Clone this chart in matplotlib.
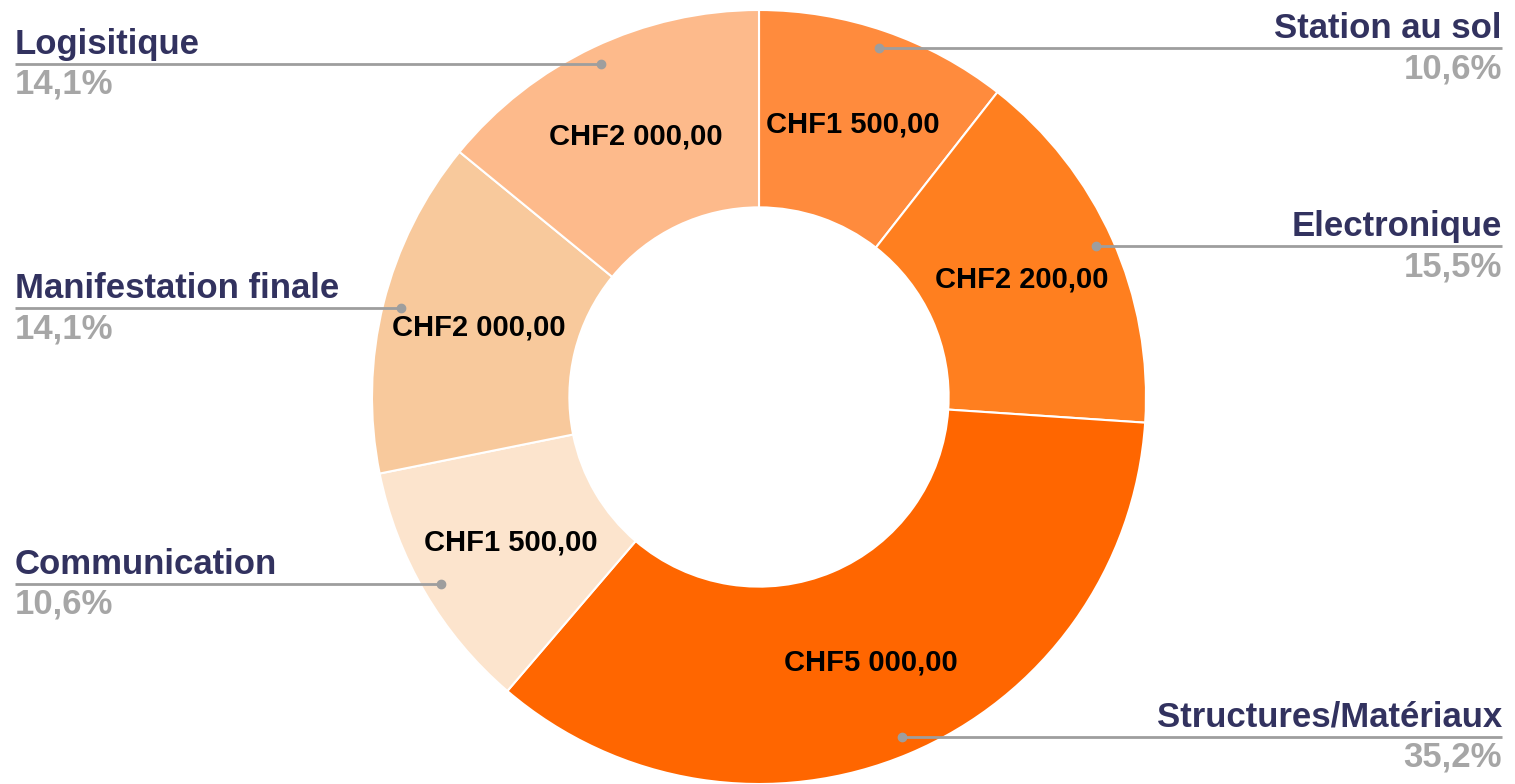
import numpy as np
import matplotlib
matplotlib.use("Agg")
import matplotlib.pyplot as plt

plt.rcParams['font.family'] = ['Liberation Sans', 'DejaVu Sans']

categories = ["Station au sol", "Electronique", "Structures/Matériaux",
              "Communication", "Manifestation finale", "Logisitique"]
amounts = [1500, 2200, 5000, 1500, 2000, 2000]
colors = ["#FF8B3D", "#FF7F1F", "#FF6600", "#FCE4CD", "#F8C99C", "#FDBA8B"]

W, H = 1515, 784
fig = plt.figure(figsize=(W / 100, H / 100), dpi=100)
ax = fig.add_axes([0, 0, 1, 1])

cx, cy, R = 759, 387, 387
total = sum(amounts)

wedges, _ = ax.pie(amounts, colors=colors, startangle=90, counterclock=False,
                   center=(cx, cy), radius=R, frame=True,
                   wedgeprops=dict(width=R * 0.51, edgecolor="white", linewidth=1.5))
ax.set_xlim(0, W)
ax.set_ylim(0, H)
ax.axis("off")

def chf(v):
    s = f"{v:,.2f}".replace(",", " ").replace(".", ",")
    return "CHF" + s

for w, cat, val in zip(wedges, categories, amounts):
    ang = np.deg2rad((w.theta1 + w.theta2) / 2)
    # montant au milieu de l'anneau
    rm = R * 0.745
    ax.text(cx + rm * np.cos(ang), cy + rm * np.sin(ang), chf(val),
            ha="center", va="center", fontsize=21, fontweight="bold", color="black")
    # ligne de rappel
    rd = R * 0.953
    dx, dy = cx + rd * np.cos(ang), cy + rd * np.sin(ang)
    pct = f"{val / total * 100:.1f}%".replace(".", ",")
    if np.cos(ang) >= 0:
        xe, ha = 1502, "right"
    else:
        xe, ha = 15, "left"
    ax.plot([dx, xe], [dy, dy], color="#9E9E9E", lw=2, solid_capstyle="butt")
    ax.plot(dx, dy, "o", color="#9E9E9E", ms=6)
    ax.text(xe, dy + 10, cat, ha=ha, va="baseline", fontsize=25,
            fontweight="bold", color="#32325F")
    ax.text(xe, dy - 4, pct, ha=ha, va="top", fontsize=25,
            fontweight="bold", color="#A6A6A6")

fig.savefig("out.png", dpi=100)
